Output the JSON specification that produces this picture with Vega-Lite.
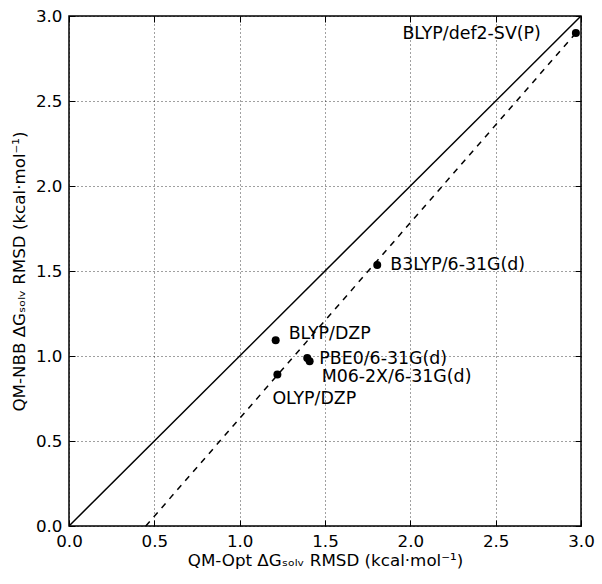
{
  "$schema": "https://vega.github.io/schema/vega-lite/v6.json",
  "width": 512,
  "height": 510,
  "autosize": {"type": "none"},
  "padding": {"left": 69, "top": 16, "right": 21, "bottom": 58},
  "background": "white",
  "config": {
    "font": "DejaVu Sans",
    "view": {"stroke": "black", "strokeWidth": 1.5},
    "axis": {
      "domain": false,
      "grid": true,
      "gridColor": "black",
      "gridDash": [1, 3],
      "gridOpacity": 0.75,
      "gridWidth": 1,
      "ticks": true,
      "tickSize": -6,
      "tickColor": "black",
      "tickWidth": 1,
      "labelFlush": false,
      "labelFontSize": 16.7,
      "labelColor": "black",
      "labelPadding": 13,
      "titleFontSize": 16.7,
      "titleFontWeight": "normal",
      "titleColor": "black"
    }
  },
  "resolve": {"axis": {"x": "independent", "y": "independent"}},
  "datasets": {
    "points": [
      {"method": "BLYP/def2-SV(P)", "opt": 2.97, "nbb": 2.9},
      {"method": "B3LYP/6-31G(d)", "opt": 1.806, "nbb": 1.535},
      {"method": "BLYP/DZP", "opt": 1.211, "nbb": 1.092},
      {"method": "PBE0/6-31G(d)", "opt": 1.396, "nbb": 0.988},
      {"method": "M06-2X/6-31G(d)", "opt": 1.41, "nbb": 0.969},
      {"method": "OLYP/DZP", "opt": 1.221, "nbb": 0.891}
    ],
    "lines": [
      {"line": "parity", "opt": 0, "nbb": 0},
      {"line": "parity", "opt": 3, "nbb": 3},
      {"line": "fit", "opt": 0.45, "nbb": 0},
      {"line": "fit", "opt": 2.97, "nbb": 2.9}
    ]
  },
  "layer": [
    {
      "data": {"name": "lines"},
      "transform": [{"filter": "datum.line === 'parity'"}],
      "mark": {"type": "line", "color": "black", "strokeWidth": 1.5, "clip": true},
      "encoding": {
        "x": {
          "field": "opt",
          "type": "quantitative",
          "scale": {"domain": [0, 3], "nice": false, "zero": false},
          "axis": {
            "values": [0, 0.5, 1, 1.5, 2, 2.5, 3],
            "format": ".1f",
            "title": "QM-Opt ΔGₛₒₗᵥ RMSD (kcal·mol⁻¹)",
            "titlePadding": 3
          }
        },
        "y": {
          "field": "nbb",
          "type": "quantitative",
          "scale": {"domain": [0, 3], "nice": false, "zero": false},
          "axis": {
            "values": [0, 0.5, 1, 1.5, 2, 2.5, 3],
            "format": ".1f",
            "title": "QM-NBB ΔGₛₒₗᵥ RMSD (kcal·mol⁻¹)",
            "titlePadding": 7
          }
        }
      }
    },
    {
      "data": {"name": "lines"},
      "transform": [{"filter": "datum.line === 'fit'"}],
      "mark": {"type": "line", "color": "black", "strokeWidth": 1.5, "strokeDash": [6, 6], "clip": true},
      "encoding": {
        "x": {
          "field": "opt",
          "type": "quantitative",
          "axis": {
            "orient": "top",
            "values": [0, 0.5, 1, 1.5, 2, 2.5, 3],
            "labels": false,
            "grid": false,
            "title": null
          }
        },
        "y": {
          "field": "nbb",
          "type": "quantitative",
          "axis": {
            "orient": "right",
            "values": [0, 0.5, 1, 1.5, 2, 2.5, 3],
            "labels": false,
            "grid": false,
            "title": null
          }
        }
      }
    },
    {
      "data": {"name": "points"},
      "mark": {"type": "circle", "color": "black", "opacity": 1, "size": 64},
      "encoding": {
        "x": {"field": "opt", "type": "quantitative", "axis": null},
        "y": {"field": "nbb", "type": "quantitative", "axis": null}
      }
    },
    {
      "data": {"name": "points"},
      "encoding": {
        "x": {"field": "opt", "type": "quantitative", "axis": null},
        "y": {"field": "nbb", "type": "quantitative", "axis": null},
        "text": {"field": "method"}
      },
      "layer": [
        {
          "transform": [{"filter": "datum.method === 'BLYP/def2-SV(P)'"}],
          "mark": {"type": "text", "align": "right", "baseline": "middle", "dx": -35, "dy": 1, "fontSize": 17.4, "color": "black"}
        },
        {
          "transform": [{"filter": "datum.method === 'B3LYP/6-31G(d)'"}],
          "mark": {"type": "text", "align": "left", "baseline": "middle", "dx": 13, "dy": 0, "fontSize": 17.4, "color": "black"}
        },
        {
          "transform": [{"filter": "datum.method === 'BLYP/DZP'"}],
          "mark": {"type": "text", "align": "left", "baseline": "middle", "dx": 13, "dy": -6, "fontSize": 17.4, "color": "black"}
        },
        {
          "transform": [{"filter": "datum.method === 'PBE0/6-31G(d)'"}],
          "mark": {"type": "text", "align": "left", "baseline": "middle", "dx": 12, "dy": 1, "fontSize": 17.4, "color": "black"}
        },
        {
          "transform": [{"filter": "datum.method === 'M06-2X/6-31G(d)'"}],
          "mark": {"type": "text", "align": "left", "baseline": "middle", "dx": 12, "dy": 16, "fontSize": 17.4, "color": "black"}
        },
        {
          "transform": [{"filter": "datum.method === 'OLYP/DZP'"}],
          "mark": {"type": "text", "align": "left", "baseline": "middle", "dx": -5, "dy": 24, "fontSize": 17.4, "color": "black"}
        }
      ]
    }
  ]
}
